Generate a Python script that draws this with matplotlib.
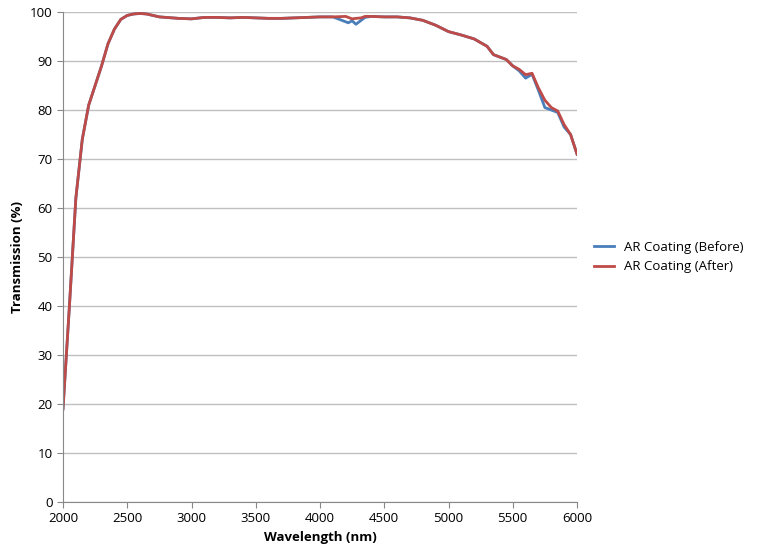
import matplotlib
matplotlib.use("Agg")
import matplotlib.pyplot as plt
plt.rcParams["font.family"] = "Open Sans"

wavelength = [2000,2050,2100,2150,2200,2250,2300,2350,2400,2450,2500,2550,2600,2650,2700,2750,2800,2900,3000,3100,3200,3300,3400,3500,3600,3700,3800,3900,4000,4100,4200,4220,4250,4280,4320,4350,4400,4500,4600,4700,4800,4900,5000,5100,5200,5300,5350,5400,5450,5500,5550,5600,5650,5700,5750,5800,5850,5900,5950,6000]
after = [19,40,62,74,81,85,89,93.5,96.5,98.5,99.3,99.6,99.7,99.6,99.3,99.0,98.9,98.7,98.6,98.9,98.9,98.8,98.9,98.8,98.7,98.7,98.8,98.9,99.0,99.0,99.1,98.9,98.6,98.7,98.8,99.1,99.1,99.0,99.0,98.8,98.3,97.3,96.0,95.3,94.5,93.0,91.3,90.8,90.3,89.0,88.3,87.2,87.5,84.5,82.0,80.5,79.8,77.0,75.0,71.0]
before = [19,40,62,74,81,85,89,93.5,96.5,98.5,99.3,99.6,99.7,99.6,99.3,99.0,98.9,98.7,98.6,98.9,98.9,98.8,98.9,98.8,98.7,98.7,98.8,98.9,99.0,99.0,98.0,97.8,98.2,97.5,98.3,98.9,99.1,99.0,99.0,98.8,98.3,97.3,96.0,95.3,94.5,93.0,91.3,90.8,90.3,89.0,88.0,86.5,87.3,84.0,80.5,80.0,79.5,76.5,75.0,71.0]
labels = ["AR Coating (Before)", "AR Coating (After)"]

fig = plt.figure(figsize=(7.69,5.58), dpi=100)
ax = fig.add_axes([63/769, 1-502/558, (577-63)/769, (502-12)/558])
ax.plot(wavelength, before, color="#4a7ebb", lw=2, label=labels[0])
ax.plot(wavelength, after, color="#be4b48", lw=2, label=labels[1])
ax.set_xlim(2000,6000); ax.set_ylim(0,100)
ax.set_xticks(range(2000,6001,500)); ax.set_yticks(range(0,101,10))
ax.grid(axis="y", color="#c0c0c0", lw=1)
ax.set_axisbelow(True)
for s in ["top","right"]: ax.spines[s].set_visible(False)
for s in ["left","bottom"]: ax.spines[s].set_color("#888888")
ax.tick_params(labelsize=9.5, length=4, color="#888888")
ax.set_xlabel("Wavelength (nm)", fontweight="bold", fontsize=9.5)
ax.set_ylabel("Transmission (%)", fontweight="bold", fontsize=9.5)
ax.legend(loc="center left", bbox_to_anchor=(1.01,0.5), frameon=False, fontsize=9.5, handlelength=1.5)
fig.savefig("out.png", dpi=100)
